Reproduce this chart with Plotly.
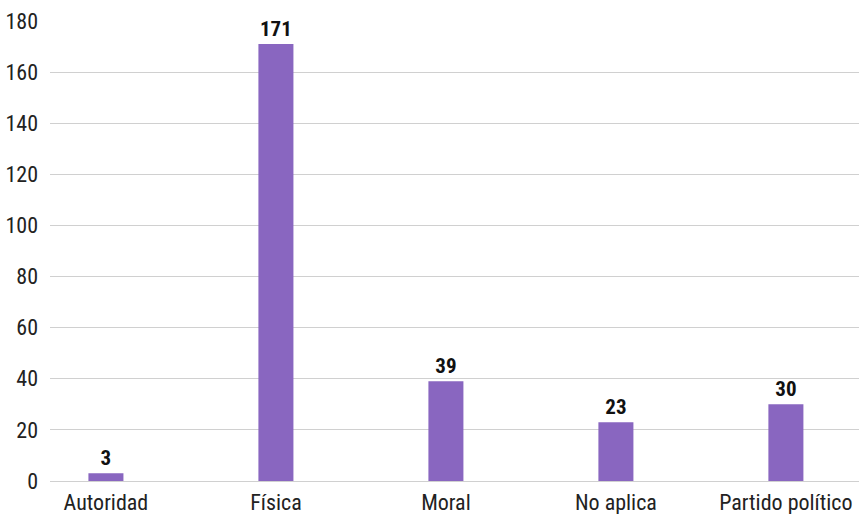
import plotly.graph_objects as go

categories = ["Autoridad", "Física", "Moral", "No aplica", "Partido político"]
values = [3, 171, 39, 23, 30]
y_ticks = [0, 20, 40, 60, 80, 100, 120, 140, 160, 180]

FONT = "Roboto Condensed, Liberation Sans Narrow, DejaVu Sans Condensed, Arial Narrow, Roboto, sans-serif"

fig = go.Figure(go.Bar(
    x=categories, y=values,
    marker=dict(color="#8966C0", line=dict(width=0)),
    width=0.206,
    text=[str(v) for v in values],
    textposition="outside",
    texttemplate="<b>%{text}</b>",
    textfont=dict(family=FONT, size=21, color="#111111"),
    cliponaxis=False,
))

fig.update_layout(
    width=859, height=514,
    margin=dict(l=50, r=0, t=21, b=33),
    plot_bgcolor="white", paper_bgcolor="white",
    showlegend=False,
    font=dict(family=FONT, size=22, color="#222222"),
    xaxis=dict(range=[-0.329, 4.43], showgrid=False, showline=False,
               ticks="", ticklabelstandoff=6,
               tickfont=dict(size=22, color="#222222")),
    yaxis=dict(range=[0, 180], tickvals=y_ticks, showgrid=True,
               gridcolor="#D0D0D0", gridwidth=1, zeroline=True,
               zerolinecolor="#D0D0D0", zerolinewidth=1,
               ticks="", ticklabelstandoff=11,
               tickfont=dict(size=22, color="#222222")),
)

fig.write_html("out.html")
